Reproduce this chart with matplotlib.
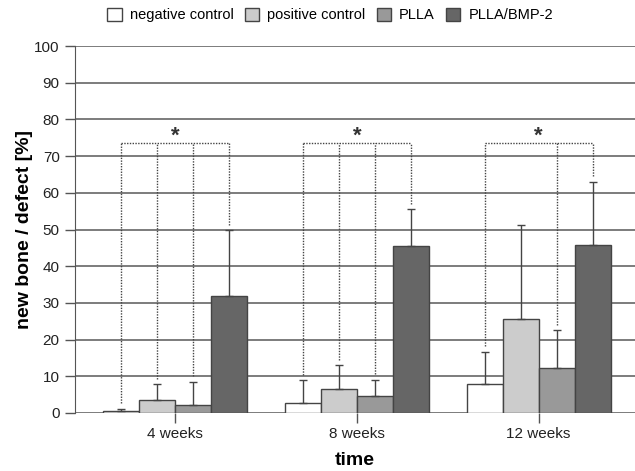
import numpy as np
import matplotlib.pyplot as plt

plt.rcParams['font.family'] = ['Liberation Sans', 'DejaVu Sans']

groups = ["4 weeks", "8 weeks", "12 weeks"]
series = ["negative control", "positive control", "PLLA", "PLLA/BMP-2"]
colors = ["#ffffff", "#cccccc", "#999999", "#666666"]

means = [
    [0.6, 2.6, 7.8],     # negative control
    [3.5, 6.5, 25.7],    # positive control
    [2.1, 4.7, 12.3],    # PLLA
    [32.0, 45.6, 45.9],  # PLLA/BMP-2
]
errs = [
    [0.5, 6.3, 8.9],
    [4.3, 6.5, 25.5],
    [6.4, 4.3, 10.3],
    [17.8, 9.9, 17.1],
]
# which bars each significance bracket connects, per group
sig_pairs = [[0, 1, 2, 3], [0, 1, 2, 3], [0, 2, 3]]
sig_level = 73.7

fig = plt.figure(figsize=(6.35, 4.71), dpi=100)
ax = fig.add_axes([75 / 635, 1 - 413 / 471, 1 - 75 / 635, (413 - 46) / 471])

x = np.arange(len(groups))
w = 36 / 182
edge = "#444444"

for i, name in enumerate(series):
    pos = x + (i - 1.5) * w
    ax.bar(pos, means[i], width=w, color=colors[i], edgecolor=edge, linewidth=1,
           label=name, zorder=3)
    ax.errorbar(pos, means[i], yerr=[np.zeros(len(groups)), errs[i]], fmt="none",
                ecolor=edge, elinewidth=1, capsize=3, capthick=1, zorder=4)

dots = (0, (1, 1))
for g, idx in enumerate(sig_pairs):
    xs = [x[g] + (i - 1.5) * w for i in idx]
    ax.plot([xs[0], xs[-1]], [sig_level, sig_level], ls=dots, color="#444444",
            lw=1, zorder=5)
    for i, xx in zip(idx, xs):
        top = means[i][g] + errs[i][g] + 1.5
        ax.plot([xx, xx], [top, sig_level], ls=dots, color="#444444", lw=1, zorder=5)
    ax.text(x[g], sig_level - 1.2, "*", ha="center", va="bottom", fontsize=16,
            fontweight="bold", color="#333333")

ax.set_xlim(-0.55, 2.53)
ax.set_ylim(0, 100)
ax.set_yticks(range(0, 101, 10))
ax.set_xticks(x)
ax.set_xticklabels(groups, fontsize=11, color="#222222")
ax.tick_params(axis="y", labelsize=11, length=7, width=1, color="#555555", pad=4,
               labelcolor="#222222")
ax.tick_params(axis="x", length=7, width=1, color="#555555", pad=3)
ax.grid(axis="y", color="#666666", lw=1.2, zorder=0)
ax.set_axisbelow(True)
for s in ["top", "right", "bottom"]:
    ax.spines[s].set_visible(False)
ax.spines["left"].set_color("#555555")

ax.set_ylabel("new bone / defect [%]", fontsize=14, fontweight="bold", labelpad=1)
ax.set_xlabel("time", fontsize=14, fontweight="bold", labelpad=8)

fig.legend(loc="center", bbox_to_anchor=(0.52, 1 - 15 / 471), ncol=4, frameon=False,
           fontsize=10.5, handlelength=1.0, handleheight=1.0, columnspacing=0.75,
           handletextpad=0.55)

fig.savefig("out.png", dpi=100)
